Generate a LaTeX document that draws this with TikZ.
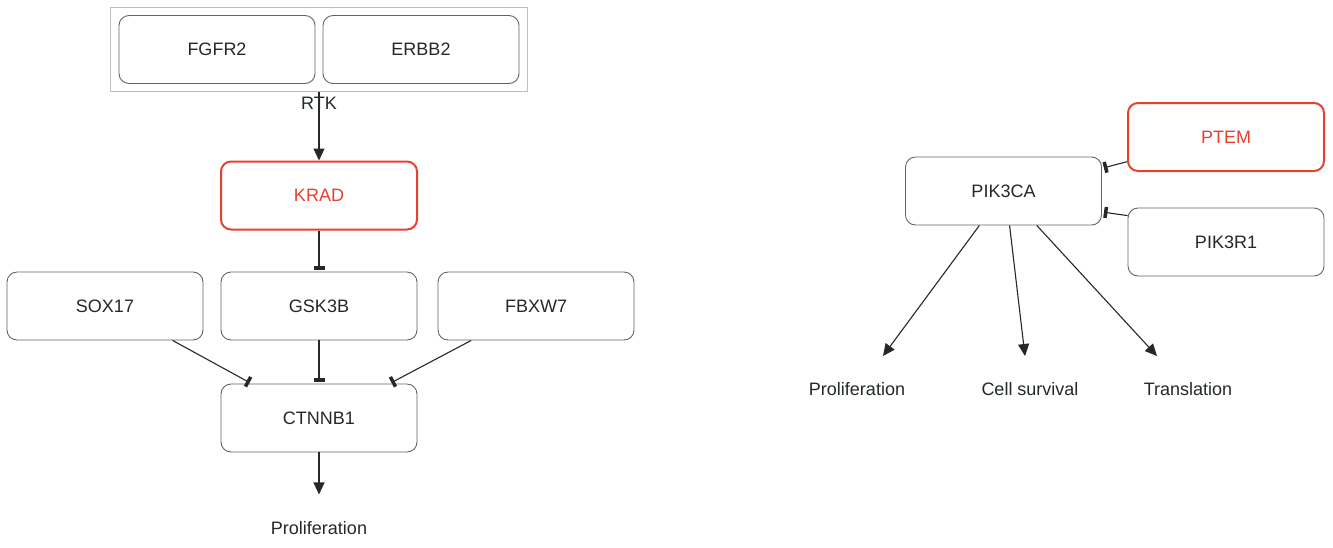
\documentclass[tikz,border=0pt]{standalone}
\usepackage{fontspec}
\setmainfont{Liberation Sans}
\usetikzlibrary{arrows.meta,fit}
\definecolor{mutred}{RGB}{232,64,46}
\definecolor{boxgray}{RGB}{100,100,100}
\definecolor{txtdark}{RGB}{35,40,40}
\tikzset{
  gene/.style={draw=boxgray, line width=0.9pt, rounded corners=10pt, minimum width=196pt, minimum height=68pt, text=txtdark, font=\fontsize{18}{21}\selectfont},
  mutated/.style={gene, draw=mutred, line width=2pt, text=mutred},
  outcome/.style={text=txtdark, font=\fontsize{18}{21}\selectfont},
  act/.style={-{Triangle[width=11pt,length=12pt]}, line width=1.1pt, draw=txtdark},
  inh/.style={-{Bar[width=11pt,line width=3.5pt]}, line width=1.1pt, draw=txtdark, shorten >=2pt}
}
\begin{document}
\begin{tikzpicture}[x=1pt, y=-1pt]
    \useasboundingbox (0,0) rectangle (1333,547);
    % left pathway
    \node[gene] (fgfr) at (217,49.5) {FGFR2};
    \node[gene] (erbb) at (421,49.5) {ERBB2};
    \node[draw=black!25, line width=1pt, inner sep=8pt, fit=(fgfr)(erbb)] (rtk) {};
    \node[outcome] (rtklab) at (319,103) {RTK};
    \node[mutated] (krad) at (319,195.5) {KRAD};
    \node[gene] (sox) at (105,306) {SOX17};
    \node[gene] (gsk) at (319,306) {GSK3B};
    \node[gene] (fbxw) at (536,306) {FBXW7};
    \node[gene] (ctnnb) at (319,418) {CTNNB1};
    \node[outcome] (prolA) at (319,528) {Proliferation};
    \draw[act] (rtk.south) -- (krad.north);
    \draw[inh] (krad.south) -- (gsk.north);
    \draw[inh] (gsk.south) -- (ctnnb.north);
    \draw[inh] (sox.-27.6) -- (ctnnb.153.1);
    \draw[inh] (fbxw.-152.7) -- (ctnnb.26.9);
    \draw[act] (ctnnb.south) -- ++(0,42);
    % right pathway
    \node[gene] (pik3ca) at (1003.5,191) {PIK3CA};
    \node[mutated] (ptem) at (1226,137) {PTEM};
    \node[gene] (pik3r) at (1226,242) {PIK3R1};
    \node[outcome] (prolB) at (857,389) {Proliferation};
    \node[outcome] (surv) at (1030,389) {Cell survival};
    \node[outcome] (transl) at (1188,389) {Translation};
    \coordinate (endB) at (883,356);
    \coordinate (endS) at (1025,356);
    \coordinate (endT) at (1157,356);
    \draw[inh] (ptem.-166.2) -- (pik3ca.13.2);
    \draw[inh] (pik3r.165.7) -- (pik3ca.-12.1);
    \draw[act] (pik3ca.-125.8) -- (endB);
    \draw[act] (pik3ca.-80.8) -- (endS);
    \draw[act] (pik3ca.-46.3) -- (endT);
\end{tikzpicture}
\end{document}
